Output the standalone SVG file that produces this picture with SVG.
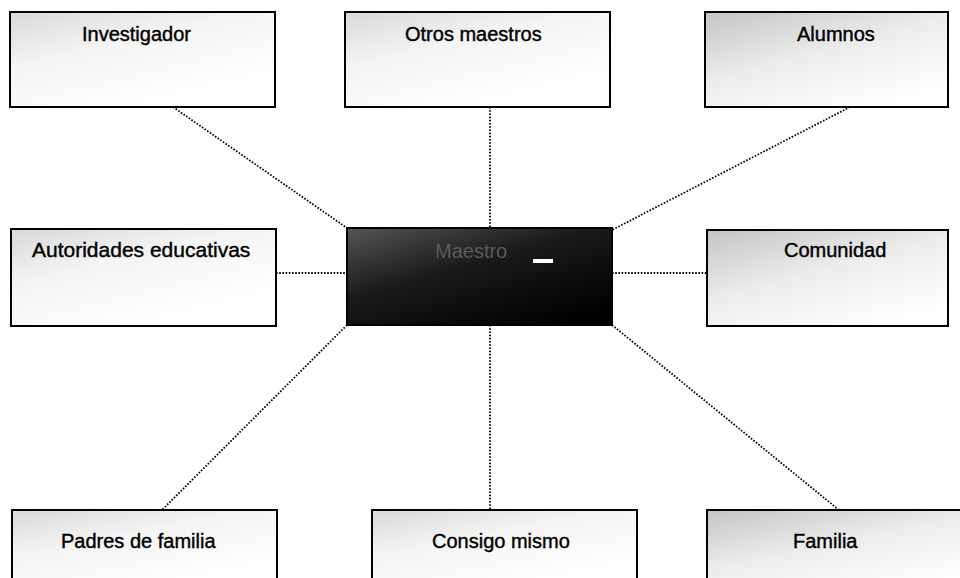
<svg xmlns="http://www.w3.org/2000/svg" width="960" height="578" viewBox="0 0 960 578">
<defs>
<linearGradient id="g1" x1="0" y1="0" x2="0.6" y2="0.9">
<stop offset="0" stop-color="#d8d8d8"/>
<stop offset="0.45" stop-color="#f4f4f4"/>
<stop offset="1" stop-color="#ffffff"/>
</linearGradient>
<linearGradient id="g2" x1="0" y1="0" x2="0.7" y2="1">
<stop offset="0" stop-color="#c4c4c4"/>
<stop offset="0.5" stop-color="#ececec"/>
<stop offset="1" stop-color="#ffffff"/>
</linearGradient>
<linearGradient id="gc" x1="0" y1="0" x2="0.8" y2="1">
<stop offset="0" stop-color="#555"/>
<stop offset="0.45" stop-color="#1a1a1a"/>
<stop offset="1" stop-color="#000"/>
</linearGradient>
</defs>
<style>
.box{stroke:#000;stroke-width:2}
.lt{fill:url(#g1)}
.dk{fill:url(#g2)}
.t{font-family:"Liberation Sans",Arial,sans-serif;font-size:20px;fill:#000;stroke:#000;stroke-width:0.4}
.con line{stroke:#000;stroke-width:1.8;stroke-dasharray:1.6 1.6;fill:none}
</style>
<rect width="960" height="578" fill="#fff"/>
<g id="connectors" class="con">
<line x1="173" y1="107" x2="347" y2="228"/>
<line x1="490" y1="107" x2="490" y2="228"/>
<line x1="850" y1="107" x2="612" y2="230"/>
<line x1="276" y1="273" x2="347" y2="273"/>
<line x1="612" y1="273" x2="707" y2="273"/>
<line x1="347" y1="325" x2="162" y2="510"/>
<line x1="490" y1="325" x2="490" y2="510"/>
<line x1="612" y1="325" x2="839" y2="510"/>
</g>
<g id="n-investigador">
<rect class="box lt" x="10" y="12" width="265" height="95"/>
<text class="t" x="82" y="41">Investigador</text>
</g>
<g id="n-otros">
<rect class="box lt" x="345" y="12" width="265" height="95"/>
<text class="t" x="405" y="41">Otros maestros</text>
</g>
<g id="n-alumnos">
<rect class="box dk" x="705" y="12" width="243" height="95"/>
<text class="t" x="797" y="41">Alumnos</text>
</g>
<g id="n-autoridades">
<rect class="box lt" x="11" y="229" width="265" height="97"/>
<text class="t" x="32" y="257" style="font-size:21px">Autoridades educativas</text>
</g>
<g id="n-maestro">
<rect class="box" x="347" y="228" width="265" height="97" fill="url(#gc)"/>
<text class="t" x="435" y="258" style="fill:#5a5a5a;stroke:none">Maestro</text>
<rect x="533" y="259" width="20" height="4" fill="#fff"/>
</g>
<g id="n-comunidad">
<rect class="box dk" x="707" y="230" width="241" height="96"/>
<text class="t" x="784" y="257">Comunidad</text>
</g>
<g id="n-padres">
<rect class="box lt" x="12" y="510" width="265" height="80"/>
<text class="t" x="61" y="548">Padres de familia</text>
</g>
<g id="n-consigo">
<rect class="box lt" x="372" y="510" width="265" height="80"/>
<text class="t" x="432" y="548">Consigo mismo</text>
</g>
<g id="n-familia">
<rect class="box dk" x="707" y="510" width="265" height="80"/>
<text class="t" x="793" y="548">Familia</text>
</g>
</svg>
